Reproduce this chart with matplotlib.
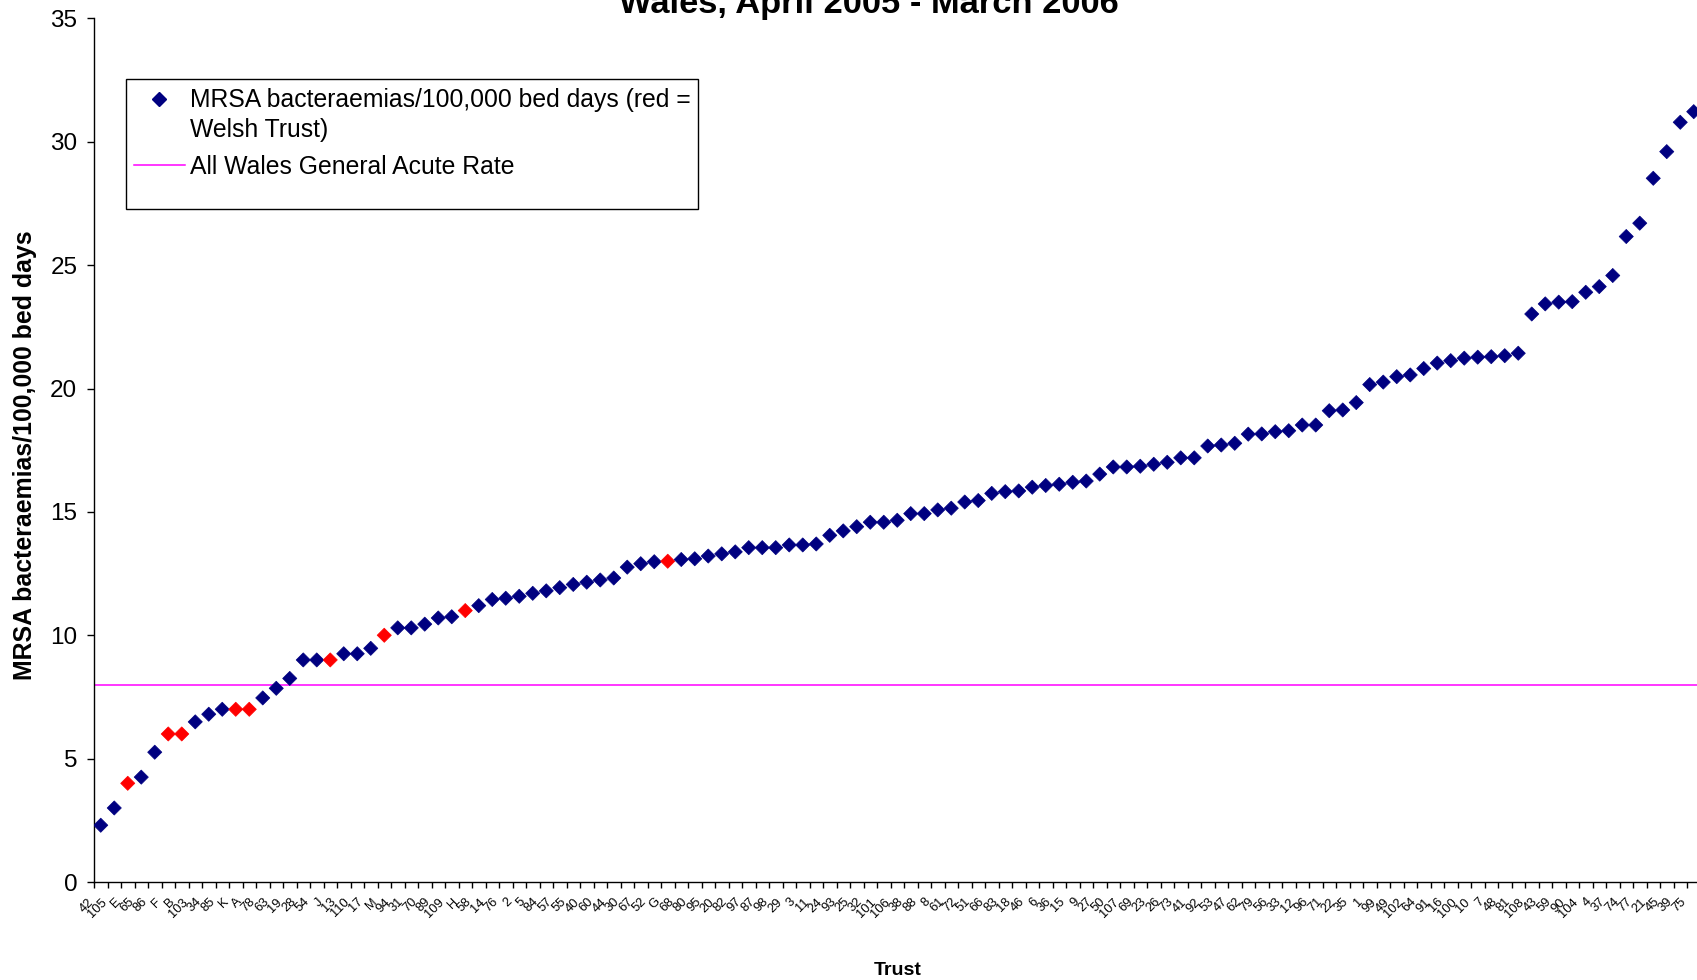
import matplotlib
matplotlib.use("Agg")
import matplotlib.pyplot as plt
from matplotlib.lines import Line2D
from matplotlib.legend_handler import HandlerLine2D
from matplotlib.patches import Rectangle
from matplotlib.transforms import ScaledTranslation
import numpy as np

plt.rcParams['font.family'] = ['Liberation Sans', 'DejaVu Sans']

# trusts in rank order (letters = Welsh trusts)
trusts = ['42', '105', 'E', '65', '86', 'F', 'B', '103', '34', '85', 'K', 'A', '78', '63', '19',
          '28', '54', 'J', '13', '110', '17', 'M', '94', '31', '70', '89', '109', 'H', '58', '14',
          '76', '2', '5', '84', '57', '55', '40', '60', '44', '30', '67', '52', 'G', '68', '80',
          '95', '20', '82', '97', '87', '98', '29', '3', '11', '24', '93', '25', '32', '101', '106',
          '38', '88', '8', '61', '72', '51', '66', '83', '18', '46', '6', '36', '15', '9', '27',
          '50', '107', '69', '23', '26', '73', '41', '92', '53', '47', '62', '79', '56', '33', '12',
          '96', '71', '22', '35', '1', '99', '49', '102', '64', '91', '16', '100', '10', '7', '48',
          '81', '108', '43', '59', '90', '104', '4', '37', '74', '77', '21', '45', '39', '75']

rates = [2.3, 3.0, 4.0, 4.25, 5.26, 6.0, 6.0, 6.49, 6.8, 7.0, 7.0, 7.0, 7.46, 7.85, 8.25,
         9.0, 9.0, 9.0, 9.25, 9.25, 9.47, 10.0, 10.3, 10.3, 10.45, 10.7, 10.75, 11.0, 11.2, 11.45,
         11.5, 11.58, 11.7, 11.8, 11.93, 12.06, 12.15, 12.24, 12.32, 12.76, 12.9, 12.98, 13.0, 13.07, 13.1,
         13.21, 13.3, 13.38, 13.55, 13.55, 13.55, 13.66, 13.66, 13.7, 14.05, 14.23, 14.4, 14.58, 14.58, 14.66,
         14.93, 14.93, 15.08, 15.15, 15.4, 15.46, 15.75, 15.82, 15.85, 16.0, 16.07, 16.12, 16.2, 16.25, 16.53,
         16.82, 16.82, 16.85, 16.93, 17.01, 17.19, 17.19, 17.67, 17.71, 17.78, 18.15, 18.16, 18.25, 18.29, 18.52,
         18.52, 19.1, 19.13, 19.43, 20.16, 20.26, 20.48, 20.55, 20.81, 21.03, 21.13, 21.23, 21.27, 21.29, 21.33,
         21.43, 23.02, 23.43, 23.5, 23.52, 23.9, 24.13, 24.58, 26.16, 26.7, 28.52, 29.6, 30.79, 31.22]

wales_rate = 8.0

x = np.arange(len(trusts))
welsh = np.array([not t.isdigit() for t in trusts])
colors = np.where(welsh, '#FF0000', '#000080')


class FirstLineHandler(HandlerLine2D):
    # put the marker level with the first line of a two-line label
    def create_artists(self, *args, **kwargs):
        arts = super().create_artists(*args, **kwargs)
        for a in arts:
            a.set_ydata(np.asarray(a.get_ydata()) + 12.3)
        return arts


fig = plt.figure(figsize=(16.97, 9.8), dpi=100)
W, H = 1697, 980
left_px, right_px = 94.0, 94.0 + 13.5 * len(trusts)
bot_px, top_px = 98.0, 961.6
ax = fig.add_axes([left_px / W, bot_px / H, (right_px - left_px) / W, (top_px - bot_px) / H])

ax.axhline(wales_rate, color='#FF00FF', lw=1.1, zorder=1)
ax.scatter(x, rates, marker='D', s=52, c=colors, edgecolors=colors, linewidths=0.5, zorder=3)

ax.set_xlim(-0.5, len(trusts) - 0.5)
ax.set_ylim(0, 35)
ax.set_yticks(np.arange(0, 36, 5))
ax.tick_params(axis='y', direction='out', length=5, width=1, labelsize=17.5, pad=7)

ax.set_xticks(np.arange(-0.5, len(trusts), 1.0))
ax.set_xticklabels([])
ax.tick_params(axis='x', which='major', direction='out', length=4, width=1)
ax.set_xticks(x, minor=True)
ax.set_xticklabels(trusts, minor=True, rotation=45, ha='right', va='top', fontsize=9.3)
ax.tick_params(axis='x', which='minor', length=0, pad=10)
shift = ScaledTranslation(-5 / 100, 0, fig.dpi_scale_trans)
for lab in ax.get_xticklabels(minor=True):
    lab.set_transform(lab.get_transform() + shift)

for s in ['top', 'right']:
    ax.spines[s].set_visible(False)
ax.spines['left'].set_linewidth(1)
ax.spines['bottom'].set_linewidth(1)

fig.text(25 / W, 1 - 455 / H, 'MRSA bacteraemias/100,000 bed days', rotation=90,
         ha='center', va='center', fontsize=17.9, fontweight='bold')
fig.text(898 / W, 1 - 970 / H, 'Trust', ha='center', va='center', fontsize=14, fontweight='bold')
fig.text(869 / W, 1 - 13 / H, 'Wales, April 2005 - March 2006', ha='center', va='baseline',
         fontsize=24.8, fontweight='bold')

# legend box (fixed size, with empty space below the entries as in the original)
box_l, box_t, box_r, box_b = 125.5, 79.0, 698.0, 209.0
fig.patches.append(Rectangle((box_l / W, 1 - box_b / H), (box_r - box_l) / W, (box_b - box_t) / H,
                             transform=fig.transFigure, fill=True, facecolor='white',
                             edgecolor='black', lw=1, zorder=4))

mrsa_handle = Line2D([], [], ls='none', marker='D', ms=7, color='#000080')
handles = [mrsa_handle, Line2D([], [], color='#FF00FF', lw=1.1)]
labels = ['MRSA bacteraemias/100,000 bed days (red =\nWelsh Trust)',
          'All Wales General Acute Rate']
leg = fig.legend(handles, labels, loc='upper left', bbox_to_anchor=(box_l / W, 1 - box_t / H),
                 borderaxespad=0, fontsize=17.8, frameon=False,
                 handlelength=2.05, handletextpad=0.2, borderpad=0.35, labelspacing=0.5,
                 handler_map={mrsa_handle: FirstLineHandler()})
leg.set_zorder(5)
for t in leg.get_texts():
    t.set_linespacing(1.36)

fig.savefig('out.png', dpi=100)
